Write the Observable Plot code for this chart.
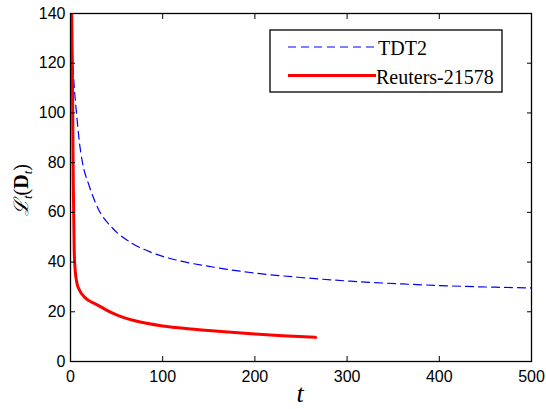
<!DOCTYPE html>
<html>
<head>
<meta charset="utf-8">
<script src="https://cdn.jsdelivr.net/npm/d3@7"></script>
<script src="https://cdn.jsdelivr.net/npm/@observablehq/plot@0.6"></script>
<style>
  html, body { margin: 0; padding: 0; background: #fff; }
</style>
</head>
<body>
<div id="chart"></div>
<script>
const seriesNames = ["TDT2", "Reuters-21578"];
const tdt2T = [2, 3.6, 6.5, 9.4, 13, 20, 30, 46, 68, 87, 117, 150, 195, 250, 304, 360, 412, 460, 500];
const tdt2L = [124, 113, 100, 89, 80, 71, 61.5, 53.5, 47.3, 44, 40.6, 38.3, 35.8, 33.8, 32.3, 31.2, 30.4, 29.9, 29.6];
const reutT = [1, 2, 3, 4, 5, 7, 10, 15, 20, 30, 40, 50, 70, 100, 130, 160, 200, 230, 266];
const reutL = [150, 118, 72, 45, 37, 31.5, 28.5, 26, 24.5, 22.6, 20.5, 18.8, 16.4, 14.3, 13.1, 12.2, 11.1, 10.4, 9.7];
const xTicks = [0, 100, 200, 300, 400, 500];
const yTicks = [0, 20, 40, 60, 80, 100, 120, 140];

const tdt2 = tdt2T.map((t, i) => ({t, v: tdt2L[i]}));
const reut = reutT.map((t, i) => ({t, v: reutL[i]}));

const font = "Liberation Sans, Arial, Helvetica, sans-serif";
const serif = "Liberation Serif, Times New Roman, serif";

const plot = Plot.plot({
  width: 546,
  height: 409,
  marginLeft: 70,
  marginRight: 15,
  marginTop: 13,
  marginBottom: 48,
  style: {fontFamily: font, fontSize: "16px", color: "black", background: "white"},
  x: {domain: [0, 500]},
  y: {domain: [0, 140]},
  marks: [
    Plot.line(tdt2, {x: "t", y: "v", stroke: "#0000ff", strokeWidth: 1.2, strokeDasharray: "8,5", curve: "monotone-x", clip: true}),
    Plot.line(reut, {x: "t", y: "v", stroke: "#ff0000", strokeWidth: 3, curve: "monotone-x", clip: true}),
    Plot.axisX({anchor: "bottom", ticks: xTicks, tickSize: -5, tickPadding: 14, label: null, fontSize: 16}),
    Plot.axisX({anchor: "top", ticks: xTicks, tickSize: -5, tickFormat: () => "", label: null}),
    Plot.axisY({anchor: "left", ticks: yTicks, tickSize: -5, tickPadding: 10, label: null, fontSize: 16}),
    Plot.axisY({anchor: "right", ticks: yTicks, tickSize: -5, tickFormat: () => "", label: null}),
    Plot.frame({stroke: "black", strokeWidth: 1.3})
  ]
});

const svg = d3.select(plot);

// x label
svg.append("text")
  .attr("x", 300).attr("y", 402)
  .attr("text-anchor", "middle")
  .attr("font-family", serif)
  .attr("font-style", "italic")
  .attr("font-size", 26)
  .attr("fill", "black")
  .text("t");

// y label
const yl = svg.append("text")
  .attr("transform", "translate(28,190) rotate(-90)")
  .attr("text-anchor", "middle")
  .attr("font-family", "Liberation Serif, DejaVu Serif, serif")
  .attr("font-size", 20)
  .attr("fill", "black");
yl.append("tspan").attr("font-style", "italic").text("ℒ");
yl.append("tspan").attr("font-size", 13).attr("font-style", "italic").attr("dy", 4).text("t");
yl.append("tspan").attr("dy", -4).text("(");
yl.append("tspan").attr("font-weight", "bold").text("D");
yl.append("tspan").attr("font-size", 13).attr("font-style", "italic").attr("dy", 4).text("t");
yl.append("tspan").attr("dy", -4).text(")");

// legend
const lg = svg.append("g");
lg.append("rect").attr("x", 270).attr("y", 30).attr("width", 232).attr("height", 62)
  .attr("fill", "white").attr("stroke", "black").attr("stroke-width", 1.3);
lg.append("line").attr("x1", 288).attr("x2", 374).attr("y1", 47).attr("y2", 47)
  .attr("stroke", "#0000ff").attr("stroke-width", 1.2).attr("stroke-dasharray", "8,5");
lg.append("line").attr("x1", 288).attr("x2", 376).attr("y1", 75.5).attr("y2", 75.5)
  .attr("stroke", "#ff0000").attr("stroke-width", 3);
lg.append("text").attr("x", 378).attr("y", 55).attr("text-anchor", "start").attr("font-family", serif)
  .attr("font-size", 20).attr("fill", "black").text(seriesNames[0]);
lg.append("text").attr("x", 376).attr("y", 84).attr("text-anchor", "start").attr("font-family", serif)
  .attr("font-size", 20).attr("fill", "black").text(seriesNames[1]);

document.getElementById("chart").appendChild(plot);
</script>
</body>
</html>
